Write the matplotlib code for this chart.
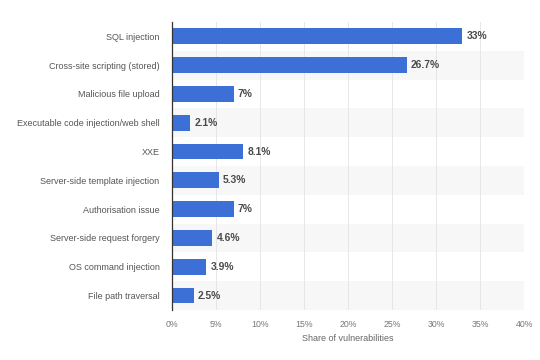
import matplotlib
matplotlib.use("Agg")
import matplotlib.pyplot as plt
from matplotlib.ticker import MultipleLocator, FuncFormatter

plt.rcParams['font.family'] = ['Liberation Sans', 'DejaVu Sans']

categories = ["SQL injection", "Cross-site scripting (stored)", "Malicious file upload",
              "Executable code injection/web shell", "XXE", "Server-side template injection",
              "Authorisation issue", "Server-side request forgery", "OS command injection",
              "File path traversal"]
values = [33, 26.7, 7, 2.1, 8.1, 5.3, 7, 4.6, 3.9, 2.5]
value_labels = ["33%", "26.7%", "7%", "2.1%", "8.1%", "5.3%", "7%", "4.6%", "3.9%", "2.5%"]

fig = plt.figure(figsize=(5.4, 3.6), dpi=100)
ax = fig.add_axes([0.3185, 0.139, 0.652, 0.8])
n = len(categories)
ypos = list(range(n))

for i in ypos:
    if i % 2 == 1:
        ax.axhspan(i - 0.5, i + 0.5, color="#f7f7f7", zorder=0, lw=0)

ax.barh(ypos, values, height=0.55, color="#3d70d6", zorder=3)
for y, v, lab in zip(ypos, values, value_labels):
    ax.text(v + 0.45, y, lab, va="center", ha="left", fontsize=7.4, fontweight="bold",
            color="#4a4a4a", zorder=4)

ax.set_xlim(0, 40)
ax.set_ylim(n - 0.5, -0.5)
ax.set_yticks(ypos)
ax.set_yticklabels(categories, fontsize=6.5, color="#555555")
ax.xaxis.set_major_locator(MultipleLocator(5))
ax.xaxis.set_major_formatter(FuncFormatter(lambda x, p: f"{int(x)}%"))
ax.tick_params(axis="x", labelsize=6.3, colors="#777777", length=0, pad=7)
ax.tick_params(axis="y", length=0, pad=9)
ax.grid(axis="x", color="#e3e3e3", lw=0.6, zorder=1)
for s in ["top", "right", "bottom"]:
    ax.spines[s].set_visible(False)
ax.spines["left"].set_color("#333333")
ax.spines["left"].set_linewidth(0.9)
ax.spines["left"].set_zorder(5)
ax.set_xlabel("Share of vulnerabilities", fontsize=6.5, color="#666666", labelpad=4)

fig.savefig("out.png", dpi=100)
